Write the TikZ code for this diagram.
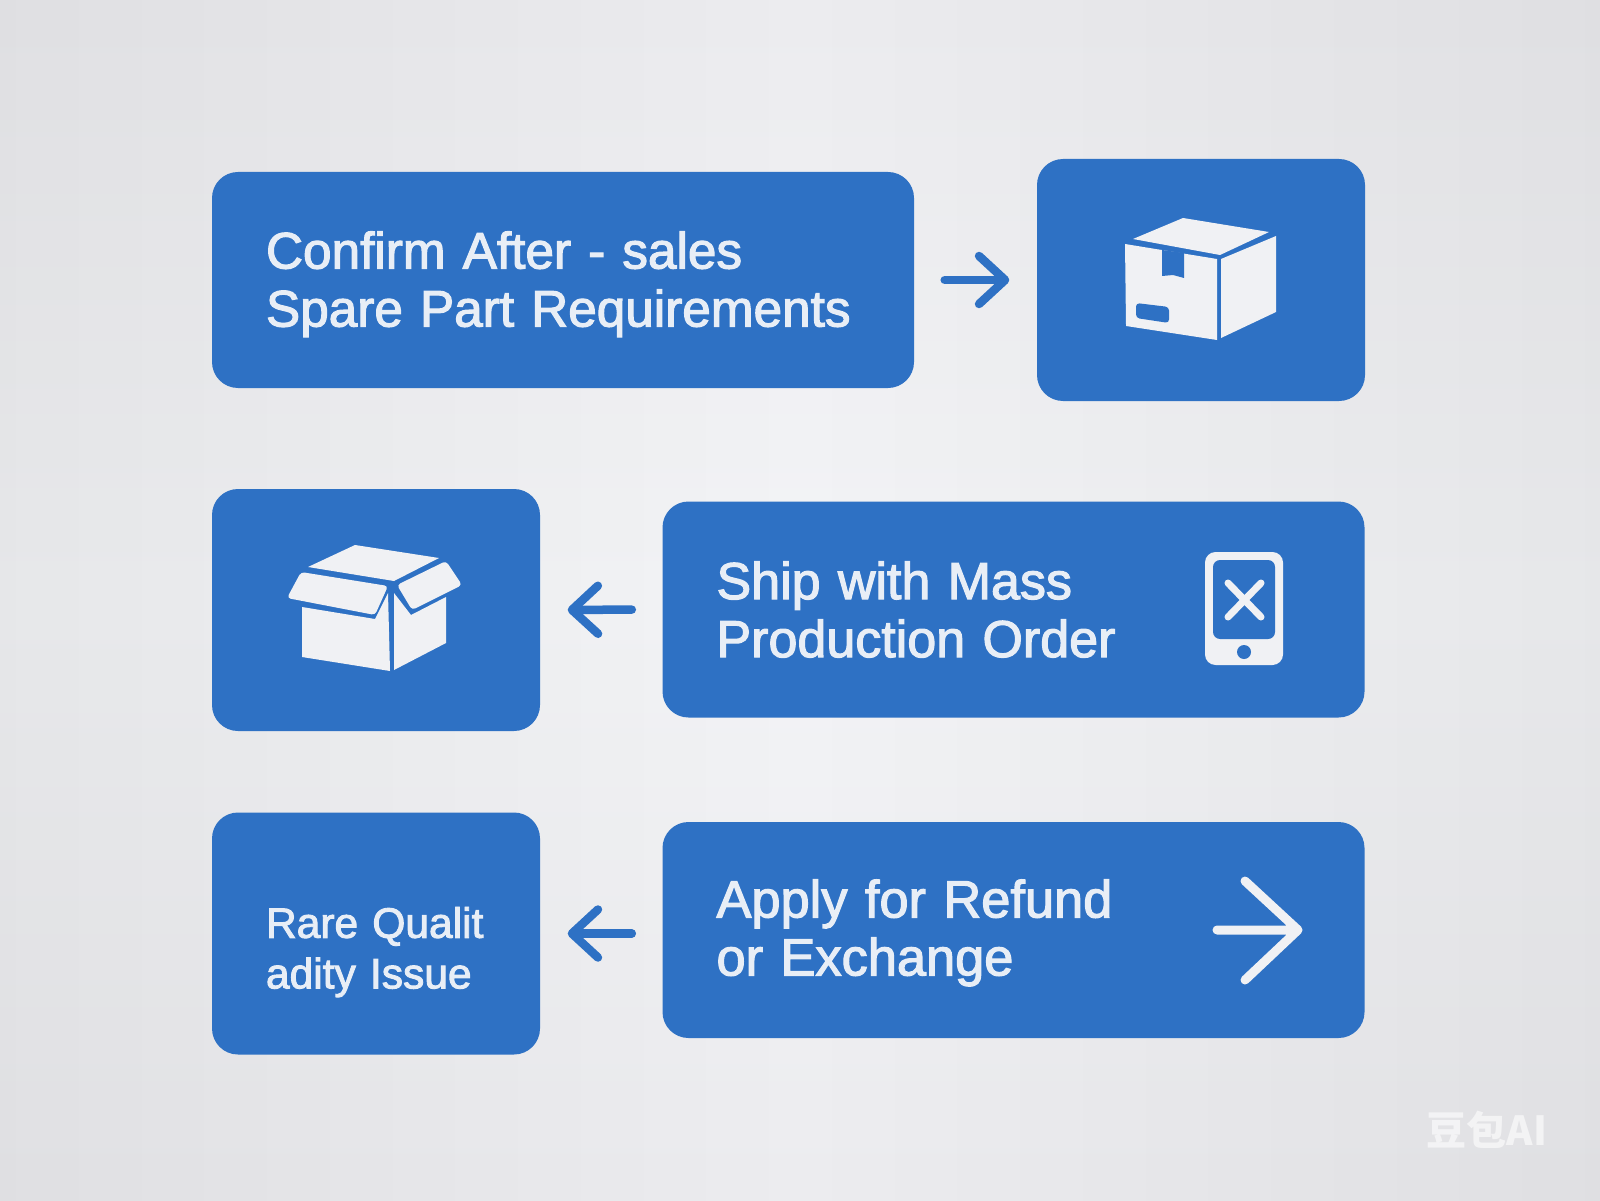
\documentclass[tikz,border=0pt]{standalone}
\usepackage{fontspec}
\setmainfont{Liberation Sans}[FakeBold=2.2,WordSpace=0.75]
\newfontfamily\markfont{Noto Sans CJK SC}
\usetikzlibrary{arrows.meta,positioning}
\definecolor{flowblue}{RGB}{46,113,196}
\definecolor{iconwhite}{RGB}{240,241,244}
\definecolor{labelwhite}{RGB}{232,238,246}
\pgfdeclareverticalshading{paperband}{100bp}{%
  rgb(0bp)=(0.855,0.855,0.871);
  rgb(25bp)=(0.925,0.925,0.937);
  rgb(50bp)=(0.953,0.957,0.965);
  rgb(75bp)=(0.925,0.925,0.937);
  rgb(100bp)=(0.875,0.875,0.890)}
\tikzset{
  widebox/.style={fill=flowblue, rounded corners=0.26cm, inner xsep=0.54cm, inner ysep=0pt,
    minimum width=7.02cm, minimum height=2.16cm, text width=5.94cm, align=left,
    text=labelwhite, font=\fontsize{14.6}{16.5}\selectfont},
  iconbox/.style={fill=flowblue, rounded corners=0.26cm, inner sep=0pt,
    minimum width=3.28cm, minimum height=2.42cm},
  flowarrow/.style={-{Straight Barb[round,length=2.6mm,width=4.8mm]}, flowblue, line width=0.085cm,
    line cap=round, shorten <=0.30cm, shorten >=0.27cm},
}
\begin{document}
\begin{tikzpicture}
\useasboundingbox (0,0) rectangle (16,12);
% -- Backdrop --
\shade[shading=paperband] (0,0) rectangle (16,12);
\shade[blend mode=multiply, left color=black!5, right color=black!5, middle color=white] (0,0) rectangle (16,12);
% -- Top row --
\node[widebox] (confirm) at (5.63,9.20) {\rule{0pt}{0.457cm}Confirm After - sales\\Spare Part Requirements};
\node[iconbox] (closedpkg) at (12.01,9.20) {};
% Closed box icon
\fill[iconwhite] (11.83,9.82) -- (12.69,9.68) -- (12.20,9.45) -- (11.33,9.61) -- cycle;
\fill[iconwhite] (11.25,9.56) -- (12.17,9.41) -- (12.17,8.60) -- (11.26,8.74) -- cycle;
\fill[iconwhite] (12.21,9.41) -- (12.76,9.64) -- (12.76,8.88) -- (12.21,8.62) -- cycle;
\fill[flowblue] (11.62,9.50) -- (11.84,9.47) -- (11.84,9.22) -- (11.73,9.25) -- (11.62,9.24) -- cycle;
\fill[flowblue, rounded corners=1pt] (11.36,8.97) -- (11.69,8.93) -- (11.69,8.77) -- (11.36,8.82) -- cycle;
% -- Middle row --
\node[iconbox] (openpkg) at (3.76,5.90) {};
\node[widebox, font=\fontsize{14.8}{16.5}\selectfont] (ship) at (10.135,5.905) {Ship with Mass\\Production Order};
% Open box icon
\fill[iconwhite] (3.55,6.55) -- (4.39,6.42) -- (3.94,6.19) -- (3.08,6.33) -- cycle;
\fill[iconwhite, rounded corners=1pt] (3.01,6.28) -- (3.88,6.14) -- (3.75,5.85) -- (2.87,6.02) -- cycle;
\fill[iconwhite, rounded corners=1pt] (4.46,6.39) -- (4.62,6.15) -- (4.12,5.90) -- (3.97,6.15) -- cycle;
\fill[iconwhite] (3.02,5.93) -- (3.75,5.81) -- (3.88,6.07) -- (3.90,5.29) -- (3.02,5.43) -- cycle;
\fill[iconwhite] (3.94,6.07) -- (4.11,5.85) -- (4.46,6.03) -- (4.46,5.57) -- (3.94,5.30) -- cycle;
% Phone icon
\fill[iconwhite, rounded corners=3pt] (12.05,6.48) rectangle (12.83,5.35);
\fill[flowblue, rounded corners=2pt] (12.13,6.40) rectangle (12.75,5.61);
\fill[flowblue] (12.44,5.48) circle (0.07);
\draw[iconwhite, line width=0.07cm, line cap=round] (12.28,6.17) -- (12.61,5.83);
\draw[iconwhite, line width=0.07cm, line cap=round] (12.61,6.17) -- (12.28,5.83);
% -- Bottom row --
\node[iconbox, text width=2.2cm, align=left, text=labelwhite,
  font=\fontsize{12.1}{14.4}\selectfont] (rare) at (3.76,2.665) {\rule{0pt}{0.68cm}\mbox{Rare Qualit}\\adity Issue};
\node[widebox, font=\fontsize{14.9}{16.5}\selectfont] (refund) at (10.135,2.70) {\rule{0pt}{0.437cm}Apply for Refund\\or Exchange};
% Right arrow icon
\draw[iconwhite, line width=0.09cm, line cap=round, line join=round]
  (12.17,2.70) -- (12.98,2.70) (12.45,3.19) -- (12.98,2.70) -- (12.45,2.20);
% -- Arrows between --
\draw[flowarrow] (confirm.east) -- (closedpkg.west);
\draw[flowarrow] (ship.west) -- (openpkg.east);
\draw[flowarrow] (refund.west |- rare.east) -- (rare.east);
% -- Watermark --
\node[font=\markfont\bfseries\fontsize{11.4}{12}\selectfont, text=white, text opacity=0.6] (mark) at (14.87,0.70) {豆包AI};
\end{tikzpicture}
\end{document}
